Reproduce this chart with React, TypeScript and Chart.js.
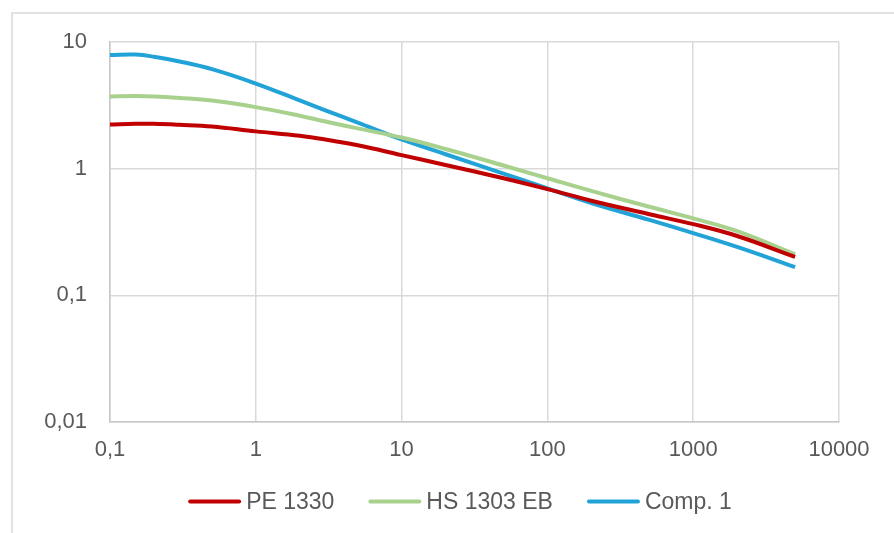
import React, { useEffect, useRef } from "react";
import { Chart, registerables } from "chart.js";
Chart.register(...registerables);

const xValues = [0.1, 0.15, 0.2, 0.3, 0.5, 1, 2, 3, 5, 10, 20, 50, 100, 200, 500, 1000, 2000, 5000];
const pe1330 = [2.23, 2.26, 2.26, 2.22, 2.15, 1.97, 1.82, 1.7, 1.53, 1.28, 1.07, 0.84, 0.69, 0.558, 0.437, 0.365, 0.294, 0.201];
const hs1303eb = [3.72, 3.74, 3.72, 3.62, 3.45, 3.06, 2.62, 2.36, 2.08, 1.76, 1.43, 1.06, 0.84, 0.667, 0.5, 0.405, 0.321, 0.211];
const comp1 = [7.9, 7.95, 7.65, 7.02, 6.1, 4.7, 3.46, 2.89, 2.31, 1.7, 1.3, 0.915, 0.7, 0.535, 0.394, 0.31, 0.241, 0.167];

const seriesNames = ["PE 1330", "HS 1303 EB", "Comp. 1"];
const seriesColors = ["#C00000", "#A9D18E", "#22A3D8"];

const xTickValues = [0.1, 1, 10, 100, 1000, 10000];
const xTickLabels = ["0,1", "1", "10", "100", "1000", "10000"];
const yTickValues = [0.01, 0.1, 1, 10];
const yTickLabels = ["0,01", "0,1", "1", "10"];

const FONT_FAMILY = "'Liberation Sans', Arial, sans-serif";
const TEXT_COLOR = "#595959";

export default function App() {
  const ref = useRef<HTMLCanvasElement | null>(null);

  useEffect(() => {
    if (!ref.current) return;
    const allSeries = [pe1330, hs1303eb, comp1];
    const datasets = allSeries.map((vals, i) => ({
      label: seriesNames[i],
      data: vals.map((v, j) => ({ x: xValues[j], y: v })),
      borderColor: seriesColors[i],
      backgroundColor: seriesColors[i],
      borderWidth: 4,
      pointRadius: 0,
      fill: false,
      tension: 0.4,
    }));

    const frame = {
      id: "frame",
      beforeDraw(chart: any) {
        const ctx = chart.ctx;
        ctx.save();
        ctx.strokeStyle = "#d9d9d9";
        ctx.lineWidth = 1.5;
        ctx.beginPath();
        ctx.moveTo(12, 533);
        ctx.lineTo(12, 13);
        ctx.lineTo(894, 13);
        ctx.stroke();
        ctx.restore();
      },
    };

    const legend = {
      id: "customLegend",
      afterDraw(chart: any) {
        const ctx = chart.ctx;
        ctx.save();
        ctx.font = `23px ${FONT_FAMILY}`;
        const lineLen = 53;
        const gap = 5;
        const itemGap = 34;
        const ds = chart.data.datasets;
        const widths = ds.map((d: any) => ctx.measureText(d.label).width);
        const total =
          widths.reduce((a: number, b: number) => a + b, 0) +
          ds.length * (lineLen + gap) +
          (ds.length - 1) * itemGap;
        let x = 460 - total / 2;
        const y = 501.5;
        ds.forEach((d: any, i: number) => {
          ctx.strokeStyle = d.borderColor;
          ctx.lineWidth = 4;
          ctx.lineCap = "round";
          ctx.beginPath();
          ctx.moveTo(x + 2, y);
          ctx.lineTo(x + lineLen - 2, y);
          ctx.stroke();
          x += lineLen + gap;
          ctx.fillStyle = TEXT_COLOR;
          ctx.textBaseline = "middle";
          ctx.textAlign = "left";
          ctx.fillText(d.label, x, y + 1);
          x += widths[i] + itemGap;
        });
        ctx.restore();
      },
    };

    const chart = new Chart(ref.current, {
      type: "line",
      data: { datasets },
      plugins: [frame, legend],
      options: {
        animation: false,
        responsive: false,
        devicePixelRatio: 1,
        layout: { padding: { top: 42, right: 55, left: 0, bottom: 0 } },
        plugins: { legend: { display: false }, tooltip: { enabled: false } },
        scales: {
          x: {
            type: "logarithmic",
            min: 0.1,
            max: 10000,
            afterFit: (s: any) => {
              s.height = 111;
            },
            afterBuildTicks: (s: any) => {
              s.ticks = xTickValues.map((v) => ({ value: v }));
            },
            ticks: {
              autoSkip: false,
              maxRotation: 0,
              padding: 15,
              color: TEXT_COLOR,
              font: { size: 22, family: FONT_FAMILY },
              callback: (v: any) => {
                const i = xTickValues.findIndex((t) => Math.abs(t - v) / t < 1e-6);
                return i >= 0 ? xTickLabels[i] : "";
              },
            },
            grid: { color: "#d9d9d9", lineWidth: 1.5, drawTicks: false },
            border: { color: "#c8c8c8", width: 1.5 },
          },
          y: {
            type: "logarithmic",
            min: 0.01,
            max: 10,
            afterFit: (s: any) => {
              s.width = 110;
            },
            afterBuildTicks: (s: any) => {
              s.ticks = yTickValues.map((v) => ({ value: v }));
            },
            ticks: {
              autoSkip: false,
              padding: 23,
              color: TEXT_COLOR,
              font: { size: 22, family: FONT_FAMILY },
              callback: (v: any) => {
                const i = yTickValues.findIndex((t) => Math.abs(t - v) / t < 1e-6);
                return i >= 0 ? yTickLabels[i] : "";
              },
            },
            grid: { color: "#d9d9d9", lineWidth: 1.5, drawTicks: false },
            border: { color: "#c8c8c8", width: 1.5 },
          },
        },
      },
    });
    return () => chart.destroy();
  }, []);

  return (
    <div style={{ position: "fixed", left: 0, top: 0, width: 894, height: 533, background: "#fff" }}>
      <canvas ref={ref} width={894} height={533} style={{ width: 894, height: 533 }} />
    </div>
  );
}
